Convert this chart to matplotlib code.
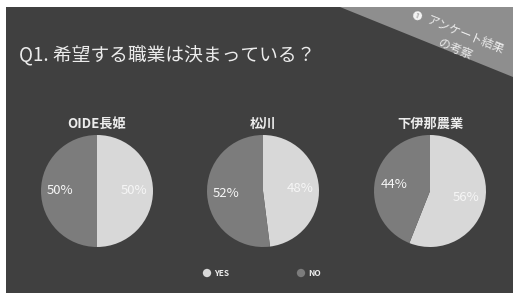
import matplotlib.pyplot as plt
from matplotlib.patches import Rectangle, Polygon

plt.rcParams["font.family"] = ["Noto Sans CJK JP", "DejaVu Sans"]

W, H = 513, 293

title = "Q1. 希望する職業は決まっている？"
schools = ["OIDE長姫", "松川", "下伊那農業"]
answers = ["YES", "NO"]
yes_pct = [50, 48, 56]
no_pct = [50, 52, 44]

BOARD = "#404040"
RIBBON = "#8e8e8e"
YES_C = "#d8d8d8"
NO_C = "#7c7c7c"
TXT = "#ececec"


def Y(y):
    return H - y


fig = plt.figure(figsize=(W / 100, H / 100), dpi=100, facecolor="white")
ax = fig.add_axes([0, 0, 1, 1])
ax.set_xlim(0, W)
ax.set_ylim(0, H)
ax.axis("off")

# chalkboard background with white margin at left / top
ax.add_patch(Rectangle((6, 0), W - 6, H - 7, facecolor=BOARD, edgecolor="none", zorder=0))
ax.add_patch(Polygon([(340, Y(7)), (W, Y(7)), (W, Y(77))], closed=True,
                     facecolor=RIBBON, edgecolor="none", zorder=1))
ax.text(417, Y(16), "❶", color="#f4f4f4", fontsize=7, ha="center", va="center",
        rotation=-22, zorder=2)
ax.text(427, Y(20), "アンケート結果", color=TXT, fontsize=8.5, ha="left", va="center",
        rotation=-22, rotation_mode="anchor", zorder=2)
ax.text(439, Y(43), "の考察", color=TXT, fontsize=8.5, ha="left", va="center",
        rotation=-22, rotation_mode="anchor", zorder=2)

ax.text(19, Y(56), title, color=TXT, fontsize=13.5, ha="left", va="center", zorder=2)

centers = [97, 263, 430]
cy = 191
r = 56
for cx, name, y_, n_ in zip(centers, schools, yes_pct, no_pct):
    wedges, texts, autos = ax.pie(
        [y_, n_], colors=[YES_C, NO_C], startangle=90, counterclock=False,
        center=(cx, Y(cy)), radius=r, frame=True,
        autopct=lambda p: f"{p:.0f}%", pctdistance=0.66,
        wedgeprops=dict(linewidth=0),
        textprops=dict(color="#f6f6f6", fontsize=9.5),
    )
    for w in wedges:
        w.set_zorder(3)
    for t in autos:
        t.set_zorder(4)
    ax.text(cx, Y(124), name, color=TXT, fontsize=9.5, fontweight="bold",
            ha="center", va="center", zorder=4)

ax.set_xlim(0, W)
ax.set_ylim(0, H)
ax.set_aspect("auto")
ax.axis("off")

# legend
leg_x = [207, 301]
for lx, lab, c in zip(leg_x, answers, [YES_C, NO_C]):
    ax.scatter([lx], [Y(273)], s=36, color=c, edgecolors="none", zorder=4)
    ax.text(lx + 7, Y(273), lab, color=TXT, fontsize=6, fontweight="bold",
            ha="left", va="center", zorder=4)

fig.savefig("out.png", dpi=100, facecolor="white")
